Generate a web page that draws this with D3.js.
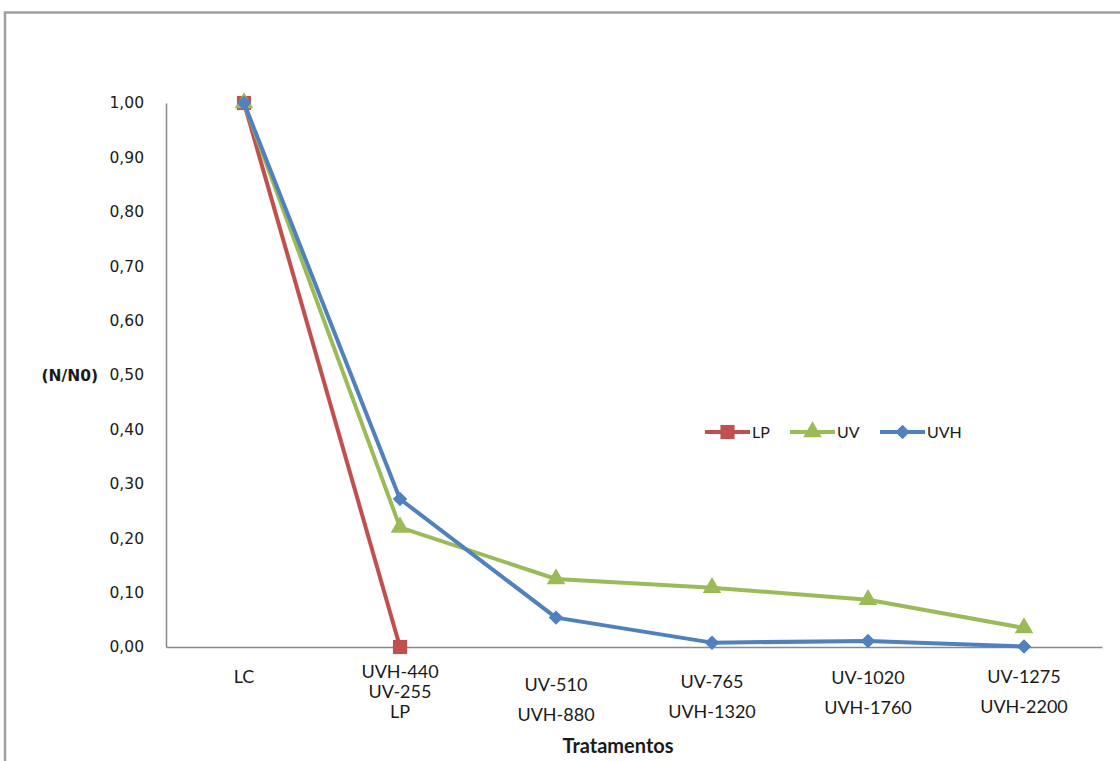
<!DOCTYPE html>
<html><head><meta charset="utf-8">
<script src="https://cdn.jsdelivr.net/npm/d3@7"></script>
<style>body{margin:0;background:#fff}svg{display:block}</style>
</head><body><svg id="c" width="1120" height="761"></svg>
<script>
const categories = ["LC", "UVH-440|UV-255|LP", "UV-510|UVH-880", "UV-765|UVH-1320", "UV-1020|UVH-1760", "UV-1275|UVH-2200"];
const lpValues  = [1.00, 0.00];
const uvValues  = [1.00, 0.22, 0.125, 0.109, 0.087, 0.035];
const uvhValues = [1.00, 0.272, 0.054, 0.008, 0.011, 0.001];
const yTicks = [0, 0.1, 0.2, 0.3, 0.4, 0.5, 0.6, 0.7, 0.8, 0.9, 1.0];
const seriesNames = ["LP", "UV", "UVH"];
const colors = ["#C0504D", "#9BBB59", "#4F81BD"];

(function(){
const svg = d3.select("#c");
svg.append("path").attr("d","M5,761 V12.5 H1120").attr("fill","none").attr("stroke","#a0a0a0").attr("stroke-width",2.5);

const pl = 166, pr = 1102, pt = 103, pb = 647;
const x = d3.scaleBand().domain(d3.range(categories.length)).range([pl, pr]);
const y = d3.scaleLinear().domain([0, 1]).range([pb, pt]);

const yAxis = d3.axisLeft(y).tickValues(yTicks).tickSize(0).tickPadding(22)
  .tickFormat(d => d3.format(".2f")(d).replace(".", ","));
const gy = svg.append("g").attr("transform", `translate(${pl},0)`).call(yAxis);
gy.select(".domain").attr("stroke", "#888").attr("stroke-width", 1.5);
gy.selectAll("text").attr("font-family", "DejaVu Sans").attr("font-size", 15.5).attr("fill", "#1a1a1a");

const xAxis = d3.axisBottom(x).tickSize(0).tickFormat("");
const gx = svg.append("g").attr("transform", `translate(0,${pb})`).call(xAxis);
gx.select(".domain").attr("stroke", "#888").attr("stroke-width", 1.5);

const firstLine = [36, 31, 44, 41, 37, 36];
categories.forEach((c, i) => {
  const parts = c.split("|");
  const step = parts.length === 3 ? 20 : 30;
  parts.forEach((p, k) => {
    svg.append("text").attr("x", x(i) + x.bandwidth()/2).attr("y", pb + firstLine[i] + k * step)
      .attr("text-anchor", "middle").attr("font-family", "Lato").attr("font-size", 18)
      .attr("fill", "#1a1a1a").text(p);
  });
});

svg.append("text").attr("x", 618).attr("y", 753).attr("text-anchor", "middle")
  .attr("font-family", "Lato").attr("font-weight", "bold").attr("font-size", 20).attr("fill", "#1a1a1a").text("Tratamentos");
svg.append("text").attr("x", 98).attr("y", y(0.5) + 6).attr("text-anchor", "end")
  .attr("font-family", "DejaVu Sans").attr("font-weight", "bold").attr("font-size", 15.5).attr("fill", "#1a1a1a").text("(N/N0)");

const allSeries = [lpValues, uvValues, uvhValues];
const line = d3.line().x((d, i) => x(i) + x.bandwidth()/2).y(d => y(d));
const sym = [d3.symbolSquare, d3.symbolTriangle, d3.symbolSquare];
const symSize = [200, 150, 105];
const rot = [0, 0, 45];

function drawMarker(g, k, cx, cy) {
  g.append("path").attr("d", d3.symbol().type(sym[k]).size(symSize[k])())
    .attr("transform", `translate(${cx},${cy}) rotate(${rot[k]})`).attr("fill", colors[k]);
}

allSeries.forEach((vals, k) => {
  const g = svg.append("g");
  g.append("path").datum(vals).attr("d", line).attr("fill", "none")
    .attr("stroke", colors[k]).attr("stroke-width", 4).attr("stroke-linejoin", "round");
  vals.forEach((v, i) => drawMarker(g, k, x(i) + x.bandwidth()/2, y(v)));
});

const legX = [705, 790, 880];
seriesNames.forEach((n, k) => {
  const g = svg.append("g");
  g.append("line").attr("x1", legX[k]).attr("x2", legX[k] + 45).attr("y1", 432).attr("y2", 432)
    .attr("stroke", colors[k]).attr("stroke-width", 4);
  drawMarker(g, k, legX[k] + 22.5, 432);
  g.append("text").attr("x", legX[k] + 47).attr("y", 438).attr("font-family", "Lato")
    .attr("font-size", 16).attr("fill", "#1a1a1a").text(n);
});
})();
</script></body></html>
